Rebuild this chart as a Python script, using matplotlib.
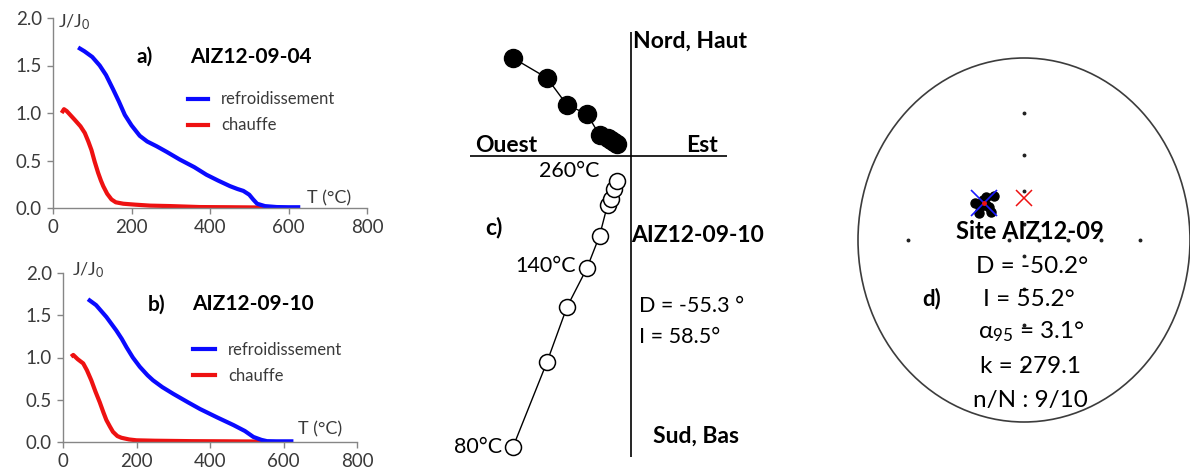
import numpy as np
import matplotlib
matplotlib.use("Agg")
import matplotlib.pyplot as plt
from matplotlib.patches import Circle
from matplotlib.lines import Line2D

plt.rcParams['font.family'] = ['Lato', 'DejaVu Sans']
plt.rcParams['mathtext.fontset'] = 'custom'
plt.rcParams['mathtext.rm'] = 'Lato'
plt.rcParams['mathtext.it'] = 'Lato:italic'
plt.rcParams['mathtext.bf'] = 'Lato:bold'

# ---------------- thermomagnetic curves ----------------
a_cool_T = [64, 80, 100, 119, 135, 153, 168, 183, 200, 221, 240, 264, 290, 323, 360,
            391, 420, 451, 470, 485, 500, 510, 520, 540, 570, 600, 630]
a_cool_J = [1.69, 1.65, 1.59, 1.50, 1.40, 1.25, 1.12, 0.98, 0.87, 0.76, 0.70, 0.65, 0.59,
            0.51, 0.43, 0.35, 0.29, 0.23, 0.20, 0.18, 0.14, 0.09, 0.045, 0.02, 0.01, 0.008, 0.008]
a_heat_T = [22, 28, 35, 55, 70, 81, 90, 98, 106, 115, 122, 128, 138, 149, 160, 179, 210,
            247, 300, 374, 450, 540]
a_heat_J = [1.00, 1.04, 1.02, 0.93, 0.86, 0.79, 0.70, 0.61, 0.49, 0.37, 0.29, 0.23, 0.15,
            0.09, 0.06, 0.045, 0.035, 0.025, 0.02, 0.01, 0.008, 0.005]

b_cool_T = [68, 90, 118, 145, 160, 173, 190, 209, 230, 245, 270, 300, 340, 373, 420, 464,
            495, 518, 540, 555, 580, 627]
b_cool_J = [1.69, 1.62, 1.48, 1.32, 1.22, 1.12, 1.00, 0.89, 0.79, 0.73, 0.65, 0.57, 0.47,
            0.39, 0.29, 0.20, 0.13, 0.06, 0.025, 0.01, 0.008, 0.008]
b_heat_T = [22, 28, 40, 55, 65, 77, 88, 100, 110, 118, 128, 136, 148, 159, 180, 200, 250,
            350, 450, 545]
b_heat_J = [1.01, 1.03, 0.98, 0.93, 0.85, 0.73, 0.60, 0.47, 0.35, 0.26, 0.18, 0.12, 0.07,
            0.05, 0.03, 0.02, 0.015, 0.01, 0.008, 0.005]

x_ticks = [0, 200, 400, 600, 800]
y_ticks = [0.0, 0.5, 1.0, 1.5, 2.0]
legend_labels = ["refroidissement", "chauffe"]

# ---------------- orthogonal projection (AIZ12-09-10) ----------------
zij_east = [-1.18, -0.84, -0.64, -0.44, -0.315, -0.235, -0.20, -0.17, -0.14]
zij_north = [0.98, 0.78, 0.51, 0.42, 0.21, 0.18, 0.16, 0.14, 0.12]
zij_up = [-2.91, -2.06, -1.51, -1.12, -0.80, -0.49, -0.43, -0.33, -0.25]

# ---------------- site directions (AIZ12-09) ----------------
spec_D = [-55.7, -61.6, -43.8, -49.0, -36.5, -48.7, -51.8, -56.0, -50.4]
spec_I = [50.4, 55.4, 53.8, 59.2, 56.5, 53.2, 62.0, 54.2, 56.5]
mean_D, mean_I = -50.2, 55.2
gad_D, gad_I = 0.0, 64.0
# net tick marks as (azimuth, inclination)
net_ticks = [(0, 20), (0, 40), (0, 60), (0, 80),
             (90, 20), (90, 40), (90, 60), (90, 80),
             (180, 20), (180, 40), (180, 60), (180, 80),
             (270, 20), (270, 80)]

BLUE = '#0a0aff'
RED = '#ee1111'
AXC = '#868686'
TXT = '#3a3a3a'

fig = plt.figure(figsize=(11.9, 4.75), dpi=100)


def thermo_axes(rect, cool_T, cool_J, heat_T, heat_J, letter, name,
                jpos, lpos, tpos, leg_anchor, handlelen):
    ax = fig.add_axes(rect)
    ax.plot(heat_T, heat_J, color=RED, lw=3.0, solid_capstyle='butt')
    ax.plot(cool_T, cool_J, color=BLUE, lw=3.0, solid_capstyle='butt')
    ax.set_xlim(0, 800)
    ax.set_ylim(0, 2.0)
    ax.set_xticks(x_ticks)
    ax.set_yticks(y_ticks)
    ax.set_yticklabels([f"{v:.1f}" for v in y_ticks])
    for s in ('top', 'right'):
        ax.spines[s].set_visible(False)
    for s in ('left', 'bottom'):
        ax.spines[s].set_color(AXC)
        ax.spines[s].set_linewidth(1.0)
    ax.tick_params(colors=AXC, labelcolor=TXT, labelsize=13.5, length=4, width=1.0,
                   direction='out', pad=4)
    ax.text(jpos[0], jpos[1], r"J/J$_0$", fontsize=13, color=TXT, ha='left', va='baseline')
    ax.text(lpos[0], lpos[1], letter, fontsize=15, fontweight='bold', color='black',
            ha='left', va='baseline')
    ax.text(lpos[2], lpos[1], name, fontsize=15, fontweight='bold', color='black',
            ha='left', va='baseline')
    ax.text(tpos[0], tpos[1], "T (°C)", fontsize=13, color=TXT, ha='left', va='baseline')
    handles = [Line2D([], [], color=BLUE, lw=3.0), Line2D([], [], color=RED, lw=3.0)]
    ax.legend(handles, legend_labels, loc='center left', bbox_to_anchor=leg_anchor,
              frameon=False, fontsize=12, handlelength=handlelen, handletextpad=0.8,
              labelspacing=0.6, borderpad=0, borderaxespad=0, labelcolor=TXT)
    return ax


thermo_axes([53 / 1190, 267 / 475, 314 / 1190, 190 / 475],
            a_cool_T, a_cool_J, a_heat_T, a_heat_J, "a)", "AIZ12-09-04",
            jpos=(13, 1.90), lpos=(214, 1.53, 349), tpos=(647, 0.05),
            leg_anchor=(0.43, 0.503), handlelen=1.2)
thermo_axes([63 / 1190, 33 / 475, 294 / 1190, 169 / 475],
            b_cool_T, b_cool_J, b_heat_T, b_heat_J, "b)", "AIZ12-09-10",
            jpos=(24, 1.97), lpos=(231, 1.56, 351), tpos=(640, 0.095),
            leg_anchor=(0.442, 0.47), handlelen=1.3)

# ---------------- panel c ----------------
axc = fig.add_axes([440 / 1190, 5 / 475, 330 / 1190, 450 / 475])
axc.set_xlim(-1.91, 1.39)
axc.set_ylim(-3.14, 1.36)
axc.axis('off')
axc.vlines(0, -3.01, 1.24, color='black', lw=1.2)
axc.hlines(0, -1.61, 0.96, color='black', lw=1.2)
axc.plot(zij_east, zij_up, color='black', lw=1.0, zorder=2)
axc.plot(zij_east, zij_up, 'o', ms=11.5, mfc='white', mec='black', mew=1.1, zorder=3)
axc.plot(zij_east, zij_north, color='black', lw=1.0, zorder=2)
axc.plot(zij_east, zij_north, 'o', ms=13, mfc='black', mec='black', zorder=3)

bold = dict(fontsize=16.5, fontweight='bold', color='black', va='baseline')
norm = dict(fontsize=15.5, color='black', va='baseline')
axc.text(0.02, 1.08, "Nord, Haut", ha='left', **bold)
axc.text(-1.56, 0.04, "Ouest", ha='left', **bold)
axc.text(0.55, 0.04, "Est", ha='left', **bold)
axc.text(-0.31, -0.21, "260°C", ha='right', **norm)
axc.text(-1.46, -0.78, "c)", ha='left', **bold)
axc.text(0.0, -0.86, "AIZ12-09-10", ha='left', **bold)
axc.text(0.08, -1.56, "D = -55.3 °", ha='left', **norm)
axc.text(0.08, -1.87, "I = 58.5°", ha='left', **norm)
axc.text(-0.55, -1.16, "140°C", ha='right', **norm)
axc.text(-1.29, -2.97, "80°C", ha='right', **norm)
axc.text(0.22, -2.87, "Sud, Bas", ha='left', **bold)

# ---------------- panel d: stereographic net ----------------


def stereo(D, I):
    D = np.radians(np.asarray(D, dtype=float))
    r = np.tan(np.radians(90.0 - np.asarray(I, dtype=float)) / 2.0)
    return r * np.sin(D), r * np.cos(D)


axd = fig.add_axes([858 / 1190, 53 / 475, 332 / 1190, 364 / 475])
axd.set_xlim(-1, 1)
axd.set_ylim(-1, 1)
axd.axis('off')
axd.add_patch(Circle((0, 0), 1.0, fill=False, ec='#3c3c3c', lw=1.2, clip_on=False))

gx, gy = stereo([t[0] for t in net_ticks], [t[1] for t in net_ticks])
axd.plot(gx, gy, 'o', ms=1.8, color='#222222', ls='none')

sx, sy = stereo(spec_D, spec_I)
axd.plot(sx, sy, 'o', ms=6.5, color='black', ls='none', zorder=3)
mx, my = stereo([mean_D], [mean_I])
axd.plot(mx, my, 'x', ms=19, mew=1.2, color='#1a1aff', zorder=4)
axd.plot(mx, my, 'o', ms=2.5, color=RED, zorder=5)
gxx, gyy = stereo([gad_D], [gad_I])
axd.plot(gxx, gyy, 'x', ms=11, mew=1.1, color=RED, zorder=4)

dtext = dict(fontsize=17.5, color='black', ha='center', va='baseline')
axd.text(0.036, 0.005, "Site AIZ12-09", fontweight='bold', fontsize=17,
         color='black', ha='center', va='baseline')
axd.text(0.05, -0.18, f"D = {mean_D:.1f}°", **dtext)
axd.text(0.03, -0.36, f"I = {mean_I:.1f}°", **dtext)
axd.text(0.04, -0.54, r"α$_{95}$ = 3.1°", **dtext)
axd.text(0.04, -0.73, "k = 279.1", **dtext)
axd.text(0.04, -0.92, "n/N : 9/10", **dtext)
axd.text(-0.61, -0.36, "d)", fontsize=16, fontweight='bold', color='black',
         ha='left', va='baseline')

fig.savefig("out.png", dpi=100)
